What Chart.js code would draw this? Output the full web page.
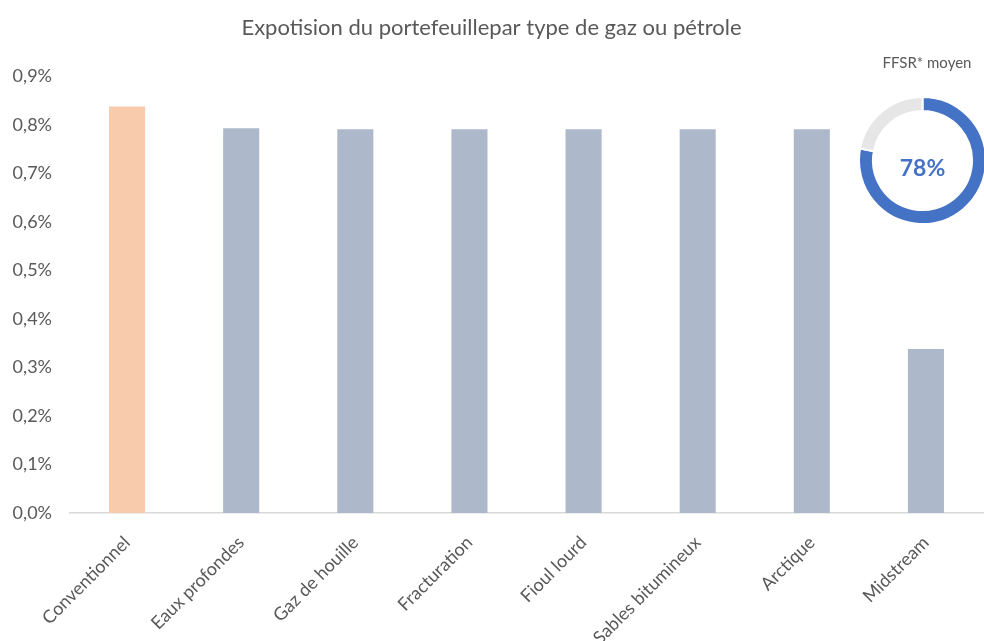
<!DOCTYPE html>
<html>
<head>
<meta charset="utf-8">
<script src="https://cdn.jsdelivr.net/npm/chart.js@4"></script>
<style>
  html, body { margin: 0; padding: 0; background: #fff; overflow: hidden; }
  #wrap { position: relative; width: 984px; height: 641px; }
  #main { position: absolute; left: 0; top: 0; }
  #donut { position: absolute; left: 858px; top: 96px; }
</style>
</head>
<body>
<div id="wrap">
  <canvas id="main" width="984" height="641"></canvas>
  <canvas id="donut" width="129" height="129"></canvas>
</div>
<script>
const titleText = "Expotision du portefeuillepar type de gaz ou pétrole";
const categories = ["Conventionnel", "Eaux profondes", "Gaz de houille", "Fracturation", "Fioul lourd", "Sables bitumineux", "Arctique", "Midstream"];
const exposure = [0.838, 0.793, 0.791, 0.791, 0.791, 0.791, 0.791, 0.338];
const barColors = ["#F8CBAD", "#ADB9CA", "#ADB9CA", "#ADB9CA", "#ADB9CA", "#ADB9CA", "#ADB9CA", "#ADB9CA"];
const yMax = 0.9;
const yStep = 0.1;
const donutLabel = "FFSR* moyen";
const ffsrValues = [78, 22];
const ffsrColors = ["#4472C4", "#E7E6E6"];
const ffsrText = "78%";

const textColor = "#595959";
const fontFamily = "Lato, 'Open Sans', sans-serif";

const labelPlugin = {
  id: 'donutLabel',
  afterDraw(chart) {
    const ctx = chart.ctx;
    ctx.save();
    ctx.font = "15px " + fontFamily;
    ctx.fillStyle = textColor;
    ctx.textAlign = "center";
    ctx.textBaseline = "middle";
    ctx.fillText(donutLabel, 927, 63);
    ctx.restore();
  }
};

new Chart(document.getElementById('main'), {
  type: 'bar',
  data: {
    labels: categories,
    datasets: [{
      data: exposure,
      backgroundColor: barColors,
      categoryPercentage: 1,
      barPercentage: 0.316
    }]
  },
  options: {
    responsive: false,
    animation: false,
    layout: { padding: { left: 0, right: 1, top: 0, bottom: 0 } },
    plugins: {
      legend: { display: false },
      tooltip: { enabled: false },
      title: {
        display: true,
        text: titleText,
        color: textColor,
        font: { family: fontFamily, size: 22, weight: 'normal' },
        padding: { top: 15, bottom: 35 }
      }
    },
    scales: {
      x: {
        grid: { display: false, drawTicks: false },
        border: { display: true, color: "#D9D9D9", width: 1.5 },
        ticks: {
          color: textColor,
          font: { family: fontFamily, size: 18 },
          maxRotation: 45,
          minRotation: 45,
          padding: 19,
          autoSkip: false
        },
        afterFit(scale) { scale.height = 128; }
      },
      y: {
        min: 0,
        max: yMax,
        grid: { display: false, drawTicks: false },
        border: { display: false },
        ticks: {
          stepSize: yStep,
          color: textColor,
          font: { family: fontFamily, size: 18 },
          padding: 18,
          callback: (v) => v.toFixed(1).replace('.', ',') + '%'
        },
        afterFit(scale) { scale.width = 70; }
      }
    }
  },
  plugins: [labelPlugin]
});

const centerText = {
  id: 'centerText',
  afterDraw(chart) {
    const ctx = chart.ctx;
    const meta = chart.getDatasetMeta(0).data[0];
    ctx.save();
    ctx.font = "bold 23px " + fontFamily;
    ctx.fillStyle = ffsrColors[0];
    ctx.textAlign = "center";
    ctx.textBaseline = "middle";
    ctx.fillText(ffsrText, meta.x, meta.y + 8);
    ctx.restore();
  }
};

new Chart(document.getElementById('donut'), {
  type: 'doughnut',
  data: {
    labels: ["FFSR", ""],
    datasets: [{
      data: ffsrValues,
      backgroundColor: ffsrColors,
      borderColor: "#FFFFFF",
      borderWidth: 2
    }]
  },
  options: {
    responsive: false,
    animation: false,
    cutout: '78%',
    plugins: { legend: { display: false }, tooltip: { enabled: false }, title: { display: false } }
  },
  plugins: [centerText]
});
</script>
</body>
</html>
